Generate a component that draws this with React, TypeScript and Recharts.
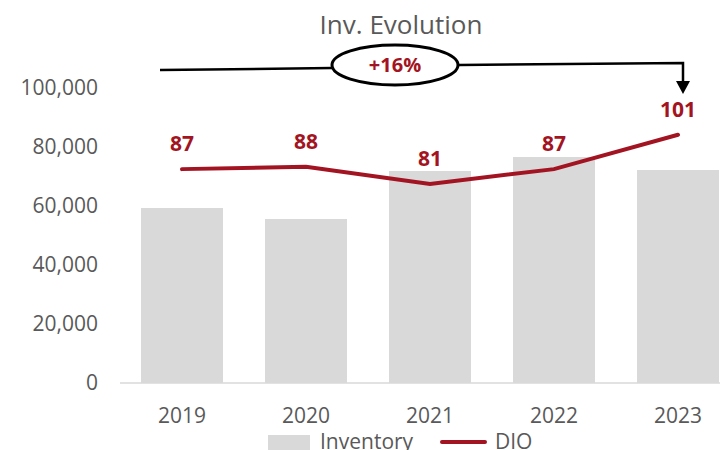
import React from 'react';
import {
  ComposedChart,
  Bar,
  Line,
  XAxis,
  YAxis,
  LabelList,
  Legend,
  Customized,
} from 'recharts';

const years = ['2019', '2020', '2021', '2022', '2023'];
const inventory = [59300, 55600, 71900, 76600, 72200];
const dio = [87, 88, 81, 87, 101];
const yTicks = [0, 20000, 40000, 60000, 80000, 100000];
const title = 'Inv. Evolution';
const growthLabel = '+16%';

const data = years.map((year, i) => ({ year, Inventory: inventory[i], DIO: dio[i] }));

const FONT = '"Open Sans", sans-serif';
const GRAY_TEXT = '#595959';
const BAR = '#D9D9D9';
const RED = '#A31422';

const LegendContent = () => (
  <svg width={760} height={20} style={{ display: 'block', overflow: 'visible' }}>
    <rect x={268} y={5} width={42} height={20} fill={BAR} />
    <text x={320} y={19} fontFamily={FONT} fontSize={21} fill={GRAY_TEXT}>
      Inventory
    </text>
    <line x1={442} x2={485} y1={12} y2={12} stroke={RED} strokeWidth={4} strokeLinecap="round" />
    <text x={495} y={19} fontFamily={FONT} fontSize={21} fill={GRAY_TEXT}>
      DIO
    </text>
  </svg>
);

const Annotation = () => (
  <g>
    <text x={401} y={34} textAnchor="middle" fontFamily={FONT} fontSize={26} fill={GRAY_TEXT}>
      {title}
    </text>
    <polyline points="160,70 332,68" fill="none" stroke="#000" strokeWidth={2.5} />
    <polyline points="459,65 683,63 683,82" fill="none" stroke="#000" strokeWidth={2.5} />
    <polygon points="676,81 690,81 683,94" fill="#000" />
    <ellipse cx={395} cy={65} rx={63} ry={20} fill="#fff" stroke="#000" strokeWidth={3} />
    <text x={395} y={72} textAnchor="middle" fontFamily={FONT} fontSize={20} fontWeight="bold" fill={RED}>
      {growthLabel}
    </text>
  </g>
);

export default function App() {
  return (
    <div style={{ position: 'absolute', left: 0, top: 0, width: 760, height: 450 }}>
      <ComposedChart
        width={760}
        height={450}
        data={data}
        margin={{ top: 88, right: 20, bottom: 0, left: 0 }}
      >
        <XAxis
          dataKey="year"
          height={47}
          axisLine={{ stroke: BAR, strokeWidth: 1.5 }}
          tickLine={false}
          tickSize={0}
          tickMargin={25}
          tick={{ fill: GRAY_TEXT, fontSize: 21, fontFamily: FONT }}
        />
        <YAxis
          yAxisId="left"
          width={120}
          domain={[0, 100000]}
          ticks={yTicks}
          axisLine={false}
          tickLine={false}
          tickSize={0}
          tickMargin={22}
          tickFormatter={(v: number) => v.toLocaleString('en-US')}
          tick={{ fill: GRAY_TEXT, fontSize: 21, fontFamily: FONT }}
        />
        <YAxis yAxisId="right" orientation="right" hide domain={[0, 120]} />
        <Bar yAxisId="left" dataKey="Inventory" fill={BAR} barSize={82} isAnimationActive={false} />
        <Line
          yAxisId="right"
          type="linear"
          dataKey="DIO"
          stroke={RED}
          strokeWidth={4}
          strokeLinecap="round"
          dot={false}
          activeDot={false}
          isAnimationActive={false}
        >
          <LabelList
            dataKey="DIO"
            position="top"
            offset={18}
            fill={RED}
            fontSize={21}
            fontWeight="bold"
            fontFamily={FONT}
          />
        </Line>
        <Legend verticalAlign="bottom" height={20} content={<LegendContent />} wrapperStyle={{ left: 0, width: 760 }} />
        <Customized component={Annotation} />
      </ComposedChart>
    </div>
  );
}
